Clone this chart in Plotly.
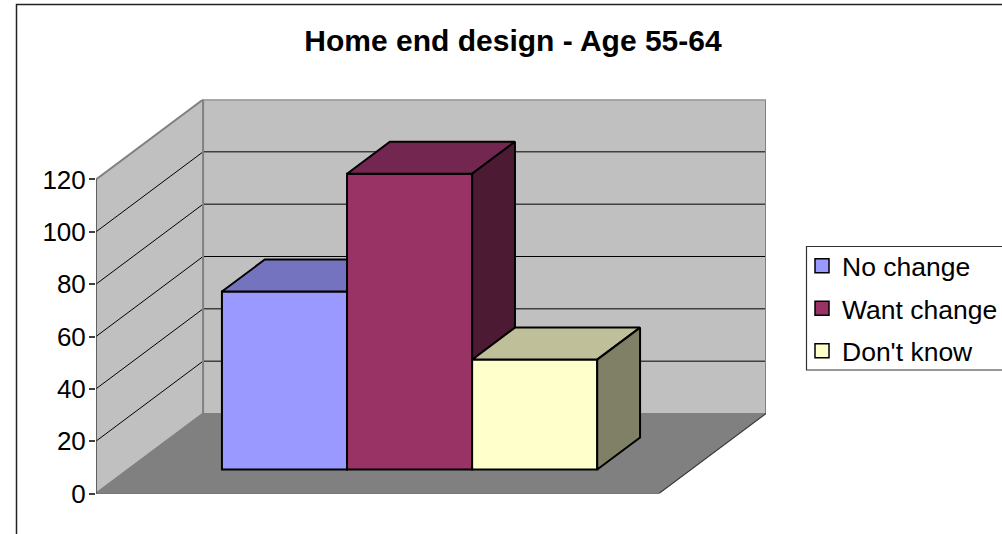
import plotly.graph_objects as go

TITLE = "Home end design - Age 55-64"
categories = ["No change", "Want change", "Don't know"]
values = [68, 113, 42]
front_colors = ["#9999ff", "#993366", "#ffffcc"]
top_colors = ["#7373bf", "#732650", "#bfbf99"]
side_colors = ["#4d4d80", "#4d1a33", "#808066"]
tick_values = [0, 20, 40, 60, 80, 100, 120]
tick_labels = ["0", "20", "40", "60", "80", "100", "120"]

W, H = 1002, 534
FONT = "Liberation Sans"
# Oblique projection: full depth of the chart expressed in axis units
DX, DY = 0.856, 30.57
GAP = 0.75              # Excel gap on each side of the cluster, in bar widths
FLOOR = GAP * 2 + len(categories)
YMAX = 120
D0, D1 = 0.3, 0.7       # bar depth span


def poly(points, fill, line=None, lw=1, xa="x", ya="y"):
    xs, ys = zip(*(points + points[:1]))
    return go.Scatter(x=xs, y=ys, mode="lines", fill="toself", fillcolor=fill,
                      line=dict(color=line or fill, width=lw), hoverinfo="skip",
                      showlegend=False, xaxis=xa, yaxis=ya, cliponaxis=False)


def seg(xs, ys, color, lw):
    return go.Scatter(x=xs, y=ys, mode="lines", line=dict(color=color, width=lw),
                      hoverinfo="skip", showlegend=False, cliponaxis=False)


fig = go.Figure()

# walls and floor
fig.add_trace(poly([(0, 0), (DX, DY), (DX, DY + YMAX), (0, YMAX)], "#c0c0c0"))
fig.add_trace(poly([(DX, DY), (DX + FLOOR, DY), (DX + FLOOR, DY + YMAX), (DX, DY + YMAX)], "#c0c0c0"))
fig.add_trace(poly([(0, 0), (FLOOR, 0), (FLOOR + DX, DY), (DX, DY)], "#808080"))

# gridlines
for v in tick_values[1:-1]:
    fig.add_trace(seg([0, DX, DX + FLOOR], [v, v + DY, v + DY], "#000000", 1))

# wall edges
fig.add_trace(seg([0, DX, DX + FLOOR, DX + FLOOR], [YMAX, YMAX + DY, YMAX + DY, DY], "#808080", 2))
fig.add_trace(seg([DX, DX, 0], [YMAX + DY, DY, 0], "#808080", 2))
fig.add_trace(seg([0, 0], [0, YMAX], "#404040", 1.5))
fig.add_trace(seg([0, FLOOR, FLOOR + DX], [0, 0, DY], "#404040", 1.2))

# legend entries
for i, name in enumerate(categories):
    fig.add_trace(go.Scatter(x=[None], y=[None], mode="markers", name=name, legendgroup=name,
                             marker=dict(symbol="square", size=14, color=front_colors[i],
                                         line=dict(color="black", width=1.5))))

# bars: each on its own overlay so nearer faces paint over earlier ones
for i, v in enumerate(values):
    n = i + 2
    xa, ya = f"x{n}", f"y{n}"
    left = GAP + i
    x0, x1 = left + D0 * DX, left + 1 + D0 * DX
    b0 = D0 * DY
    ox, oy = (D1 - D0) * DX, (D1 - D0) * DY
    top = b0 + v
    fig.add_trace(poly([(x0, top), (x1, top), (x1 + ox, top + oy), (x0 + ox, top + oy)],
                       top_colors[i], "black", 2, xa, ya))
    fig.add_trace(poly([(x1, b0), (x1 + ox, b0 + oy), (x1 + ox, top + oy), (x1, top)],
                       side_colors[i], "black", 2, xa, ya))
    fig.add_trace(go.Bar(x=[(x0 + x1) / 2], y=[v], base=[b0], width=[1], showlegend=False,
                         marker=dict(color=front_colors[i], line=dict(color="black", width=2)),
                         hoverinfo="skip", xaxis=xa, yaxis=ya, cliponaxis=False))

x_dom = [96 / W, 766 / W]
y_dom = [1 - 493.5 / H, 1 - 99.5 / H]
x_rng = [0, FLOOR + DX]
y_rng = [0, YMAX + DY]

layout = dict(
    width=W, height=H, margin=dict(l=0, r=0, t=0, b=0, autoexpand=False),
    paper_bgcolor="white", plot_bgcolor="rgba(0,0,0,0)",
    font=dict(family=FONT, color="black"),
    title=dict(text=f"<b>{TITLE}</b>", x=513 / W, xanchor="center", y=1 - 40 / H, yanchor="middle",
               font=dict(family=FONT, size=30, color="black")),
    xaxis=dict(domain=x_dom, range=x_rng, visible=False, fixedrange=True),
    yaxis=dict(domain=y_dom, range=y_rng, tickmode="array", tickvals=tick_values, ticktext=tick_labels,
               ticks="outside", ticklen=6, tickwidth=1.5, tickcolor="#404040", showgrid=False,
               zeroline=False, showline=False, ticklabelstandoff=-2,
               tickfont=dict(size=26, family=FONT, color="black"), fixedrange=True),
    legend=dict(x=802 / W, xanchor="left", y=1 - 242 / H, yanchor="top", bgcolor="rgba(0,0,0,0)",
                borderwidth=0, tracegroupgap=5,
                font=dict(size=26.5, family=FONT, color="black"), itemclick=False, itemdoubleclick=False),
    shapes=[
        dict(type="rect", xref="paper", yref="paper", x0=16.5 / W, x1=1.05, y0=-0.05, y1=1 - 4.5 / H,
             line=dict(color="#222222", width=1.5), layer="below"),
        dict(type="rect", xref="paper", yref="paper", x0=806.5 / W, x1=1.05, y0=1 - 370 / H, y1=1 - 246.5 / H,
             line=dict(color="#333333", width=1.2), fillcolor="white", layer="below"),
    ],
    barmode="overlay",
)
for i in range(len(values)):
    n = i + 2
    layout[f"xaxis{n}"] = dict(domain=x_dom, range=x_rng, overlaying="x", visible=False, fixedrange=True)
    layout[f"yaxis{n}"] = dict(domain=y_dom, range=y_rng, overlaying="y", visible=False, fixedrange=True)
fig.update_layout(**layout)

fig.write_html("out.html", config={"displayModeBar": False},
               post_script="document.body.style.margin='0';document.body.style.overflow='hidden';")
